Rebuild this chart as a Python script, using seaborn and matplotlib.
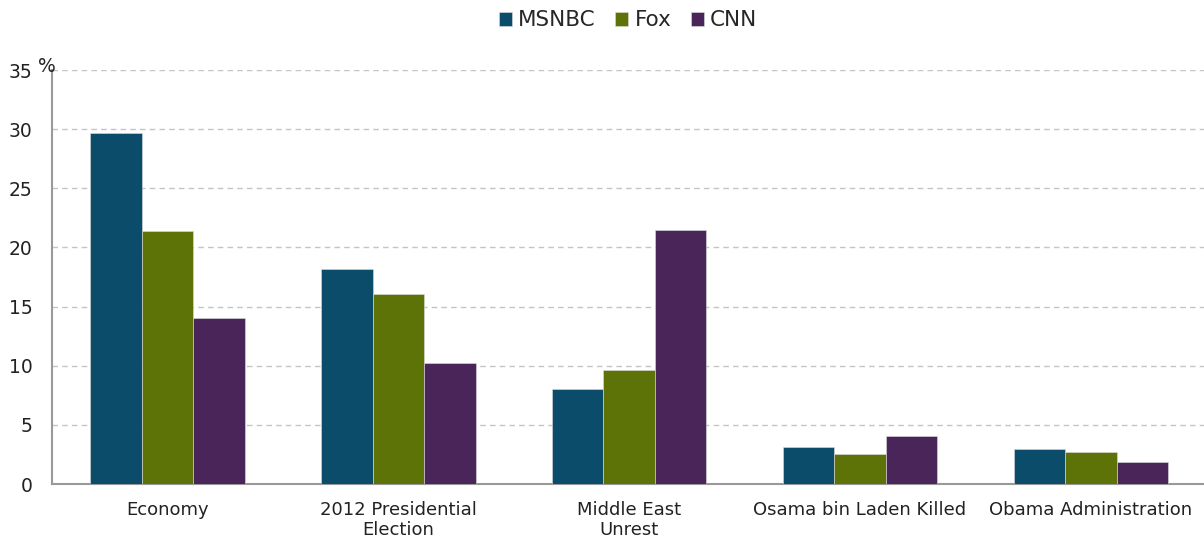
import seaborn as sns
import matplotlib
matplotlib.use('Agg')
import matplotlib.pyplot as plt
import pandas as pd

topics = ['Economy', '2012 Presidential\nElection', 'Middle East\nUnrest',
          'Osama bin Laden Killed', 'Obama Administration']
msnbc = [29.7, 18.2, 8.0, 3.1, 3.0]
fox = [21.4, 16.1, 9.6, 2.5, 2.7]
cnn = [14.0, 10.2, 21.5, 4.1, 1.9]
networks = ['MSNBC', 'Fox', 'CNN']
colors = ['#0a4c6a', '#5e7307', '#4a2559']

df = pd.DataFrame({'topic': topics * 3,
                   'network': [n for n in networks for _ in topics],
                   'value': msnbc + fox + cnn})

sns.set_style('white')
plt.rcParams['font.family'] = ['DejaVu Sans']

fig = plt.figure(figsize=(12.04, 5.4), dpi=100)
ax = fig.add_axes([52/1204, 56/540, 1 - 52/1204, 414/540])

sns.barplot(data=df, x='topic', y='value', hue='network', palette=colors,
            saturation=1, width=0.67, edgecolor='#dddddd', linewidth=0.4,
            ax=ax, zorder=3)

ax.set_ylim(0, 35)
ax.set_xlim(-0.5, 4.49)
ax.set_yticks(range(0, 36, 5))
ax.yaxis.grid(True, linestyle=(0, (4, 3)), color='#c4c4c4', linewidth=1, zorder=0)
ax.set_axisbelow(True)
ax.set_xlabel('')
ax.set_ylabel('')
ax.tick_params(axis='both', length=0, labelsize=13, colors='#222222')
ax.tick_params(axis='y', labelsize=13.5, pad=14)
ax.tick_params(axis='x', pad=12)
for s in ['top', 'right']:
    ax.spines[s].set_visible(False)
for s in ['left', 'bottom']:
    ax.spines[s].set_color('#999999')
    ax.spines[s].set_linewidth(1.5)
ax.text(0.003, 1.008, '%', transform=ax.transAxes, ha='right', va='center',
        fontsize=13.5, color='#222222')

handles, labels = ax.get_legend_handles_labels()
ax.legend(handles, labels, loc='center', bbox_to_anchor=(0.5, 1.12),
          ncol=3, frameon=False, fontsize=15.5, handlelength=0.6,
          handleheight=0.6, handletextpad=0.3, columnspacing=0.9)

fig.savefig('out.png', dpi=100)
